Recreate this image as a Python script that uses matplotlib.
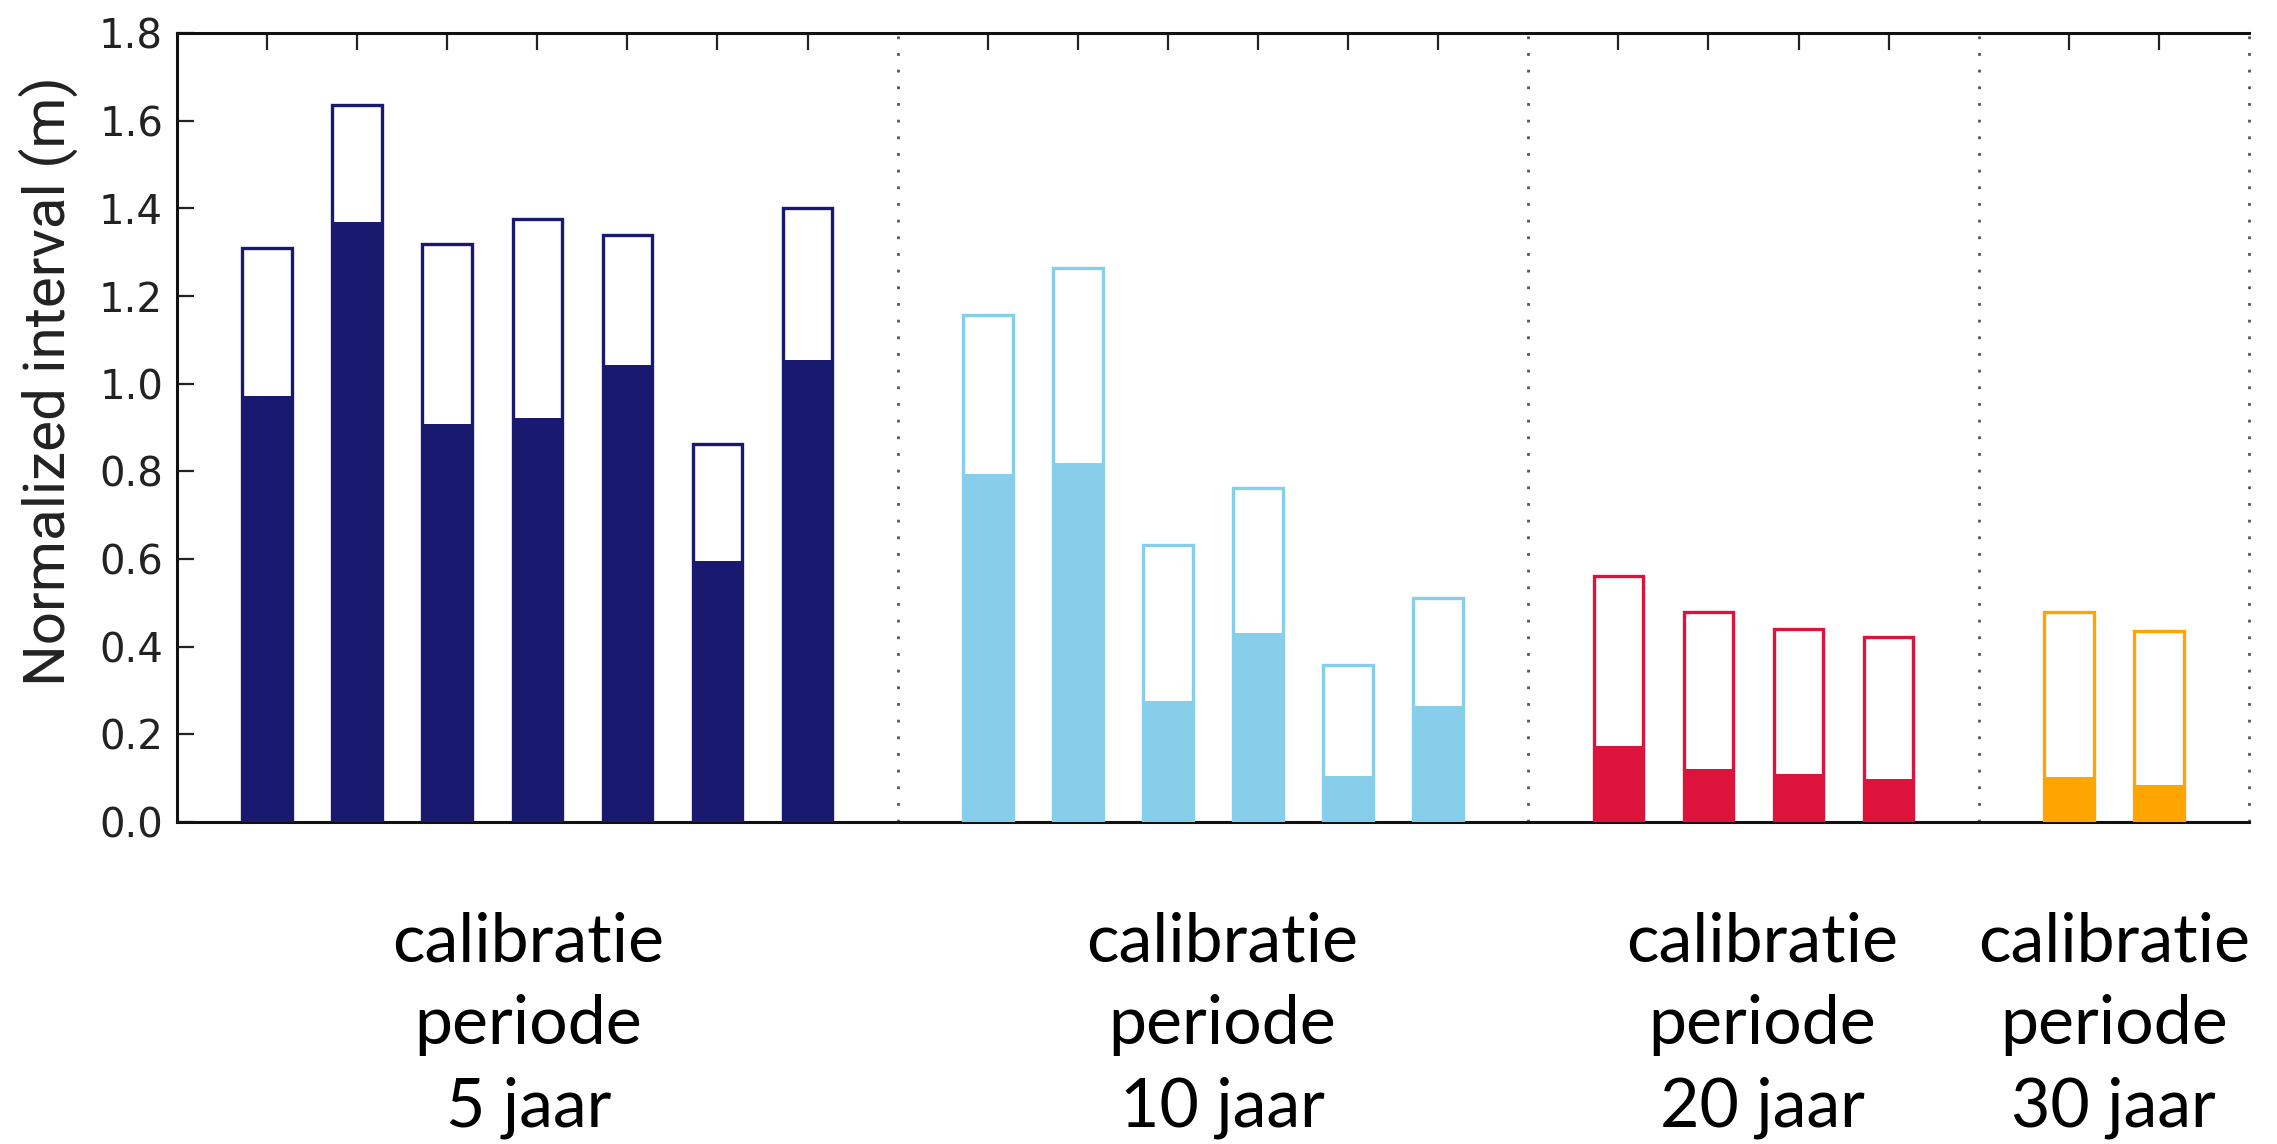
"""
Normalized interval per calibration period (filled = lower part, outline = total)
"""
import matplotlib

matplotlib.use("Agg")
import matplotlib.pyplot as plt
import matplotlib.transforms as mtransforms
import numpy as np

# bar positions grouped by calibration period (gaps hold the separators)
pos_5 = [0, 1, 2, 3, 4, 5, 6]
pos_10 = [8, 9, 10, 11, 12, 13]
pos_20 = [15, 16, 17, 18]
pos_30 = [20, 21]

# total interval (outline) and filled part
total_5 = [1.31, 1.635, 1.32, 1.377, 1.34, 0.862, 1.402]
fill_5 = [0.972, 1.368, 0.908, 0.922, 1.042, 0.596, 1.055]
total_10 = [1.157, 1.265, 0.633, 0.761, 0.358, 0.511]
fill_10 = [0.794, 0.82, 0.277, 0.431, 0.105, 0.264]
total_20 = [0.562, 0.479, 0.441, 0.421]
fill_20 = [0.174, 0.122, 0.109, 0.097]
total_30 = [0.479, 0.435]
fill_30 = [0.103, 0.084]

separators = [7, 14, 19, 22]
group_labels = [
    "calibratie\nperiode\n5 jaar",
    "calibratie\nperiode\n10 jaar",
    "calibratie\nperiode\n20 jaar",
    "calibratie\nperiode\n30 jaar",
]
label_x = [2.9, 10.6, 16.6, 20.5]
colors = ["#191970", "#87CEEB", "#DC143C", "#FFA500"]

y_ticks = np.arange(0.0, 1.81, 0.2)

fig = plt.figure(figsize=(22.77, 11.44), dpi=100)
ax = fig.add_axes([0.0777, 0.2815, 0.9100, 0.6895])

groups = [
    (pos_5, total_5, fill_5),
    (pos_10, total_10, fill_10),
    (pos_20, total_20, fill_20),
    (pos_30, total_30, fill_30),
]
width = 0.55
for (pos, total, filled), color in zip(groups, colors):
    ax.bar(pos, filled, width=width, color=color, linewidth=0, zorder=2)
    ax.bar(
        pos,
        total,
        width=width,
        fill=False,
        edgecolor=color,
        linewidth=2.4,
        zorder=3,
    )

for x in separators:
    ax.axvline(x, color="#555555", linestyle=(0, (1, 5)), linewidth=2.0,
               clip_on=False, zorder=1)

ax.set_xlim(-1, 22)
ax.set_ylim(0, 1.8)
ax.set_yticks(y_ticks)
ax.set_yticklabels([f"{v:.1f}" for v in y_ticks], fontsize=29, color="#222222")
ax.set_xticks(pos_5 + pos_10 + pos_20 + pos_30)
ax.set_xticklabels([])

ax.tick_params(axis="both", direction="in", length=12, width=1.6,
               colors="#222222", labelcolor="#222222")
ax.tick_params(axis="x", top=True, bottom=True)
ax.tick_params(axis="y", left=True, right=False, pad=10)

ax.spines["right"].set_visible(False)
for side in ["left", "top", "bottom"]:
    ax.spines[side].set_linewidth(2.2)
    ax.spines[side].set_color("#111111")

fig.text(
    0.021,
    0.667,
    "Normalized interval (m)",
    rotation=90,
    ha="center",
    va="center",
    fontsize=42,
    family=["Roboto", "DejaVu Sans"],
    color="#222222",
)

trans = mtransforms.blended_transform_factory(ax.transData, fig.transFigure)
for x, text in zip(label_x, group_labels):
    ax.text(
        x,
        0.104,
        text,
        transform=trans,
        ha="center",
        va="center",
        fontsize=49,
        linespacing=1.41,
        family=["Lato", "DejaVu Sans"],
        color="black",
    )

plt.savefig("out.png", dpi=100)
